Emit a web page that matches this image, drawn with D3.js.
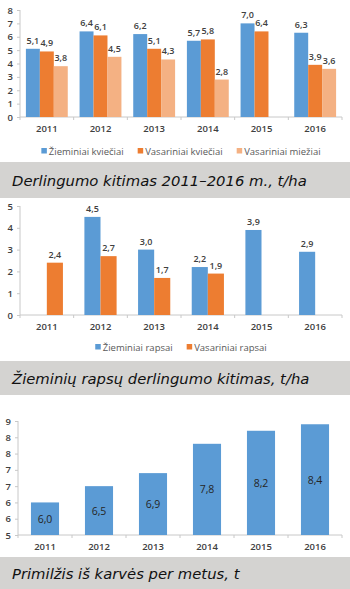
<!DOCTYPE html>
<html>
<head>
<meta charset="utf-8">
<script src="https://cdn.jsdelivr.net/npm/d3@7"></script>
<style>
  body { margin: 0; background: #fff; }
  svg { display: block; }
  .axis text { font-family: "Open Sans", sans-serif; font-weight: 600; font-size: 9.5px; fill: #404040; }
  .axis path, .axis line { stroke: #c8c8c8; }
  .lbl { font-family: "Open Sans", sans-serif; font-weight: 600; font-size: 9px; fill: #404040; }
  .lbl.in { font-weight: 400; font-size: 10.5px; fill: #262626; }
  .legend text { font-family: "Open Sans", sans-serif; font-size: 9.5px; fill: #595959; }
  .title { font-family: "DejaVu Sans", sans-serif; font-style: italic; font-size: 14.8px; fill: #111; }
</style>
</head>
<body>
<div id="chart"></div>
<script>
// data
let years = ["2011", "2012", "2013", "2014", "2015", "2016"];

// chart 1 - grain yield, t/ha
let ziemKvieciai = [5.1, 6.4, 6.2, 5.7, 7.0, 6.3];
let vasKvieciai  = [4.9, 6.1, 5.1, 5.8, 6.4, 3.9];
let vasMieziai   = [3.8, 4.5, 4.3, 2.8, null, 3.6];
let grainNames   = ["Žieminiai kviečiai", "Vasariniai kviečiai", "Vasariniai miežiai"];
let grainTicks   = [0, 1, 2, 3, 4, 5, 6, 7, 8];

// chart 2 - rapeseed yield, t/ha
let ziemRapsai  = [null, 4.5, 3.0, 2.2, 3.9, 2.9];
let vasRapsai   = [2.4, 2.7, 1.7, 1.9, null, null];
let rapeNames   = ["Žieminiai rapsai", "Vasariniai rapsai"];
let rapeTicks   = [0, 1, 2, 3, 4, 5];

// chart 3 - milk per cow, t
let primilzis  = [6.0, 6.5, 6.9, 7.8, 8.2, 8.4];
let milkTicks  = [5, 5.5, 6, 6.5, 7, 7.5, 8, 8.5];

let titles = [
    "Derlingumo kitimas 2011–2016 m., t/ha",
    "Žieminių rapsų derlingumo kitimas, t/ha",
    "Primilžis iš karvės per metus, t"
];

let colors = ["#5b9bd5", "#ed7d31", "#f4b183"];

let comma = d3.formatLocale({decimal: ",", thousands: " ", grouping: [3], currency: ["", ""]}).format(".1f");

let width = 350, height = 589;

let svg = d3.select("#chart").append("svg")
    .attr("width", width)
    .attr("height", height);

function drawBars(opt) {
    let g = svg.append("g");

    let x = d3.scaleBand()
        .domain(years)
        .range([opt.left, opt.right]);

    let y = d3.scaleLinear()
        .domain(opt.domain)
        .range([opt.bottom, opt.top]);

    let groupW = x.bandwidth() * opt.groupFrac;
    let sub = d3.scaleBand()
        .domain(d3.range(opt.series.length))
        .range([0, groupW]);

    // y axis
    let yAxis = d3.axisLeft(y)
        .tickValues(opt.ticks)
        .tickSize(3)
        .tickPadding(4)
        .tickFormat(opt.tickFormat || d3.format("d"));
    g.append("g")
        .attr("class", "axis")
        .attr("transform", "translate(" + opt.left + ",0)")
        .call(yAxis)
        .call(a => a.select(".domain").attr("d", "M0," + y(opt.domain[1]) + "V" + opt.bottom));

    // x axis: labels centred, tick marks between categories
    let xAxis = d3.axisBottom(x).tickSize(0).tickPadding(8);
    let xg = g.append("g")
        .attr("class", "axis")
        .attr("transform", "translate(0," + opt.bottom + ")")
        .call(xAxis);
    xg.select(".domain").attr("d", "M" + opt.left + ",0H" + opt.right);
    xg.selectAll(".sep")
        .data(years.concat(["end"]))
        .enter().append("line")
        .attr("class", "sep")
        .attr("x1", (d, i) => opt.left + i * x.step())
        .attr("x2", (d, i) => opt.left + i * x.step())
        .attr("y1", 0)
        .attr("y2", 3);

    // bars
    opt.series.forEach(function(values, s) {
        let rows = years.map((yr, i) => ({year: yr, v: values[i]})).filter(d => d.v != null);
        let bx = d => x(d.year) + (x.bandwidth() - groupW) / 2 + sub(s);

        g.selectAll(".bar" + s)
            .data(rows)
            .enter().append("rect")
            .attr("x", bx)
            .attr("width", sub.bandwidth())
            .attr("y", d => y(d.v))
            .attr("height", d => opt.bottom - y(d.v))
            .attr("fill", colors[s]);

        g.selectAll(".lbl" + s)
            .data(rows)
            .enter().append("text")
            .attr("class", opt.inside ? "lbl in" : "lbl")
            .attr("text-anchor", "middle")
            .attr("x", d => bx(d) + sub.bandwidth() / 2)
            .attr("y", d => opt.inside ? (y(d.v) + opt.bottom) / 2 + 4 : y(d.v) - 5)
            .text(d => comma(d.v));
    });

    // legend
    if (opt.names) {
        let lg = g.append("g").attr("class", "legend");
        let cx = 0;
        opt.names.forEach(function(name, s) {
            let it = lg.append("g").attr("transform", "translate(" + cx + ",0)");
            it.append("rect")
                .attr("x", 0).attr("y", -3)
                .attr("width", 5.5).attr("height", 5.5)
                .attr("fill", colors[s]);
            let t = it.append("text")
                .attr("x", 7.5).attr("y", 3.5)
                .text(name);
            cx += 7.5 + t.node().getComputedTextLength() + 14;
        });
        let total = cx - 14;
        lg.attr("transform", "translate(" + ((opt.left + opt.right) / 2 - total / 2) + "," + opt.legendY + ")");
    }
}

function drawTitle(text, y0, y1) {
    svg.append("rect")
        .attr("x", 0).attr("y", y0)
        .attr("width", width).attr("height", y1 - y0)
        .attr("fill", "#d4d3d1");
    svg.append("text")
        .attr("class", "title")
        .attr("x", 12)
        .attr("y", (y0 + y1) / 2 + 5.5)
        .text(text);
}

drawBars({
    series: [ziemKvieciai, vasKvieciai, vasMieziai],
    names: grainNames,
    domain: [0, 8], ticks: grainTicks,
    left: 20, right: 342, top: 10, bottom: 117,
    groupFrac: 0.78, legendY: 151
});
drawTitle(titles[0], 162, 198);

drawBars({
    series: [ziemRapsai, vasRapsai],
    names: rapeNames,
    domain: [0, 5], ticks: rapeTicks,
    left: 20, right: 342, top: 206, bottom: 315,
    groupFrac: 0.6, legendY: 347
});
drawTitle(titles[1], 361, 395);

drawBars({
    series: [primilzis],
    domain: [5, 8.5], ticks: milkTicks,
    tickFormat: d => Math.round(d),
    left: 18, right: 342, top: 421, bottom: 535,
    groupFrac: 0.52, inside: true
});
drawTitle(titles[2], 557, 589);
</script>
</body>
</html>
